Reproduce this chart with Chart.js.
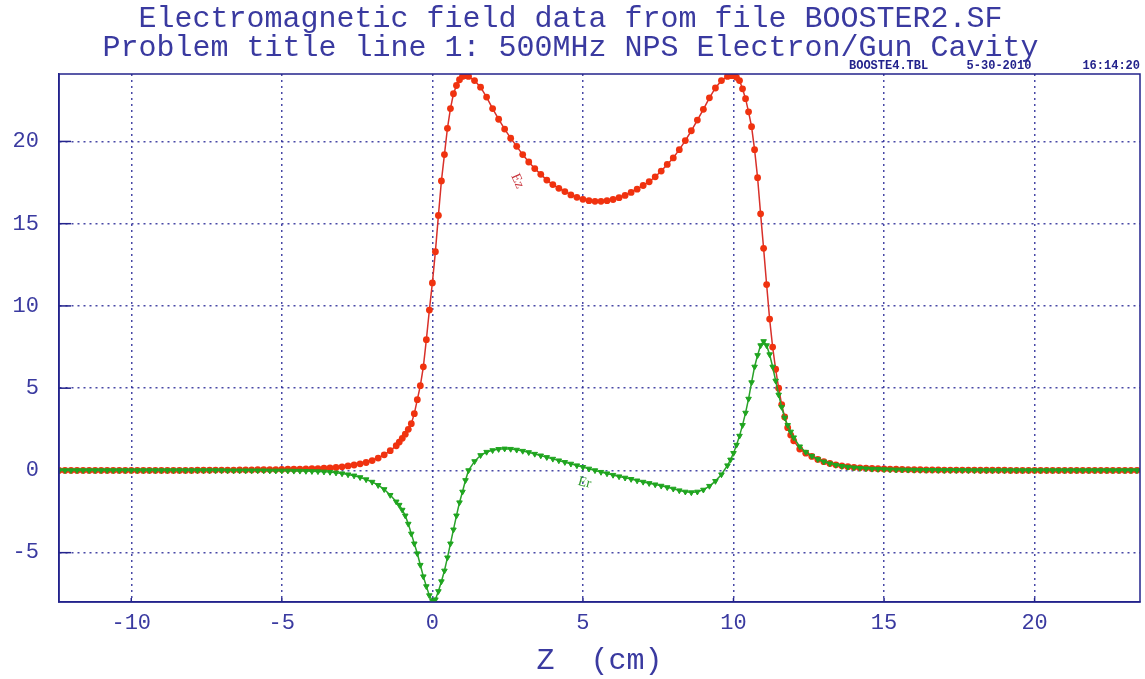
<!DOCTYPE html>
<html>
<head>
<meta charset="utf-8">
<script src="https://cdn.jsdelivr.net/npm/chart.js@4.4.1/dist/chart.umd.min.js"></script>
<style>
  html, body { margin: 0; padding: 0; background: #fff; }
</style>
</head>
<body>
<canvas id="fieldChart" width="1145" height="679"></canvas>
<script>
// z position (cm) of each table point
const zCm = [
  -12.4, -12.2, -12.0, -11.8, -11.6, -11.4, -11.2, -11.0, -10.8, -10.6,
  -10.4, -10.2, -10.0, -9.8, -9.6, -9.4, -9.2, -9.0, -8.8, -8.6,
  -8.4, -8.2, -8.0, -7.8, -7.6, -7.4, -7.2, -7.0, -6.8, -6.6,
  -6.4, -6.2, -6.0, -5.8, -5.6, -5.4, -5.2, -5.0, -4.8, -4.6,
  -4.4, -4.2, -4.0, -3.8, -3.6, -3.4, -3.2, -3.0, -2.8, -2.6,
  -2.4, -2.2, -2.0, -1.8, -1.6, -1.4,
  -1.2, -1.1, -1.0, -0.9, -0.8, -0.7, -0.6, -0.5, -0.4, -0.3,
  -0.2, -0.1, 0.0, 0.1, 0.2, 0.3, 0.4, 0.5, 0.6, 0.7,
  0.8, 0.9, 1.0, 1.1, 1.2,
  1.4, 1.6, 1.8, 2.0, 2.2, 2.4, 2.6, 2.8, 3.0, 3.2,
  3.4, 3.6, 3.8, 4.0, 4.2, 4.4, 4.6, 4.8, 5.0, 5.2,
  5.4, 5.6, 5.8, 6.0, 6.2, 6.4, 6.6, 6.8, 7.0, 7.2,
  7.4, 7.6, 7.8, 8.0, 8.2, 8.4, 8.6, 8.8, 9.0, 9.2,
  9.4, 9.6, 9.8,
  9.9, 10.0, 10.1, 10.2, 10.3, 10.4, 10.5, 10.6, 10.7, 10.8,
  10.9, 11.0, 11.1, 11.2, 11.3, 11.4, 11.5, 11.6, 11.7, 11.8,
  11.9, 12.0,
  12.2, 12.4, 12.6, 12.8, 13.0, 13.2, 13.4, 13.6, 13.8, 14.0,
  14.2, 14.4, 14.6, 14.8, 15.0, 15.2, 15.4, 15.6, 15.8, 16.0,
  16.2, 16.4, 16.6, 16.8, 17.0, 17.2, 17.4, 17.6, 17.8, 18.0,
  18.2, 18.4, 18.6, 18.8, 19.0, 19.2, 19.4, 19.6, 19.8, 20.0,
  20.2, 20.4, 20.6, 20.8, 21.0, 21.2, 21.4, 21.6, 21.8, 22.0,
  22.2, 22.4, 22.6, 22.8, 23.0, 23.2, 23.4
];

// Ez along the axis
const ez = [
  0, 0, 0, 0, 0, 0, 0, 0, 0, 0,
  0, 0, 0, 0, 0, 0, 0, 0, 0, 0,
  0, 0, 0, 0.01, 0.01, 0.01, 0.02, 0.02, 0.02, 0.02,
  0.03, 0.03, 0.03, 0.04, 0.04, 0.05, 0.05, 0.06, 0.07, 0.07,
  0.08, 0.09, 0.10, 0.11, 0.13, 0.15, 0.18, 0.22, 0.27, 0.33,
  0.40, 0.48, 0.60, 0.75, 0.95, 1.20,
  1.50, 1.72, 1.95, 2.20, 2.50, 2.84, 3.45, 4.30, 5.15, 6.30,
  7.95, 9.75, 11.40, 13.30, 15.50, 17.60, 19.20, 20.80, 22.00, 22.90,
  23.40, 23.75, 23.95, 24.00, 23.95,
  23.70, 23.30, 22.70, 22.00, 21.35, 20.75, 20.20, 19.70, 19.20, 18.75,
  18.35, 18.00, 17.65, 17.38, 17.15, 16.95, 16.75, 16.60, 16.48, 16.40,
  16.36, 16.36, 16.40, 16.47, 16.58, 16.72, 16.90, 17.10, 17.32, 17.55,
  17.85, 18.20, 18.60, 19.00, 19.50, 20.05, 20.65, 21.30, 21.95, 22.65,
  23.25, 23.70, 23.95,
  24.00, 24.00, 23.90, 23.70, 23.20, 22.60, 21.80, 20.90, 19.50, 17.80,
  15.60, 13.50, 11.30, 9.20, 7.50, 6.15, 5.00, 4.00, 3.25, 2.60,
  2.15, 1.80,
  1.30, 1.05, 0.85, 0.67, 0.53, 0.42, 0.34, 0.28, 0.23, 0.19,
  0.16, 0.14, 0.12, 0.10, 0.09, 0.08, 0.07, 0.06, 0.05, 0.04,
  0.04, 0.03, 0.03, 0.03, 0.02, 0.02, 0.02, 0.02, 0.02, 0.02,
  0.01, 0.01, 0.01, 0.01, 0.01, 0, 0, 0, 0, 0,
  0, 0, 0, 0, 0, 0, 0, 0, 0, 0,
  0, 0, 0, 0, 0, 0, 0
];

// Er along the axis
const er = [
  0, 0, 0, 0, 0, 0, 0, 0, 0, 0,
  0, 0, 0, 0, 0, 0, 0, 0, 0, 0,
  0, 0, 0, 0, 0, 0, 0, 0, -0.01, -0.01,
  -0.01, -0.01, -0.01, -0.01, -0.01, -0.02, -0.02, -0.02, -0.02, -0.03,
  -0.03, -0.04, -0.05, -0.06, -0.08, -0.10, -0.14, -0.19, -0.25, -0.32,
  -0.42, -0.55, -0.70, -0.90, -1.15, -1.50,
  -1.90, -2.10, -2.40, -2.75, -3.25, -3.85, -4.45, -5.05, -5.75, -6.45,
  -7.05, -7.60, -7.95, -7.85, -7.35, -6.75, -6.10, -5.30, -4.45, -3.60,
  -2.75, -1.95, -1.30, -0.60, 0.00,
  0.55, 0.92, 1.12, 1.22, 1.29, 1.32, 1.30, 1.25, 1.18, 1.10,
  1.00, 0.90, 0.80, 0.70, 0.60, 0.50, 0.40, 0.30, 0.20, 0.10,
  0.00, -0.10, -0.19, -0.28, -0.37, -0.45, -0.53, -0.62, -0.70, -0.78,
  -0.86, -0.94, -1.03, -1.12, -1.22, -1.30, -1.34, -1.30, -1.18, -0.95,
  -0.65, -0.25, 0.30,
  0.65, 1.05, 1.55, 2.10, 2.75, 3.50, 4.35, 5.35, 6.30, 7.00,
  7.60, 7.85, 7.60, 7.05, 6.30, 5.45, 4.60, 3.85, 3.20, 2.75,
  2.35, 2.00,
  1.45, 1.12, 0.88, 0.68, 0.53, 0.42, 0.33, 0.26, 0.21, 0.17,
  0.14, 0.11, 0.09, 0.08, 0.06, 0.05, 0.04, 0.04, 0.03, 0.03,
  0.02, 0.02, 0.02, 0.01, 0.01, 0.01, 0.01, 0.01, 0, 0,
  0, 0, 0, 0, 0, 0, 0, 0, 0, 0,
  0, 0, 0, 0, 0, 0, 0, 0, 0, 0,
  0, 0, 0, 0, 0, 0, 0
];

const titleLines = [
  'Electromagnetic field data from file BOOSTER2.SF',
  'Problem title line 1: 500MHz NPS Electron/Gun Cavity'
];
const stampFile = 'BOOSTE4.TBL';
const stampDate = '5-30-2010';
const stampTime = '16:14:20';
const xTitle = 'Z  (cm)';
const curveNames = ['Ez', 'Er'];

const navy = '#23238c';
const textBlue = '#3a3aa0';
const mono = '"Liberation Mono", "DejaVu Sans Mono", monospace';

function pairs(ys) {
  return zCm.map((z, i) => ({ x: z, y: ys[i] }));
}

// extra decorations: frame, inward ticks, stamp, curve names
const decorations = {
  id: 'decorations',
  beforeDatasetsDraw(chart) {
    const { ctx, chartArea: a, scales } = chart;
    ctx.save();
    ctx.strokeStyle = navy;
    ctx.lineWidth = 1.5;
    scales.y.ticks.forEach(t => {
      const y = scales.y.getPixelForValue(t.value);
      ctx.beginPath(); ctx.moveTo(a.left, y); ctx.lineTo(a.left + 12, y); ctx.stroke();
    });
    scales.x.ticks.forEach(t => {
      const x = scales.x.getPixelForValue(t.value);
      ctx.beginPath(); ctx.moveTo(x, a.bottom); ctx.lineTo(x, a.bottom - 4); ctx.stroke();
    });
    ctx.restore();
  },
  afterDraw(chart) {
    const { ctx, chartArea: a, scales } = chart;
    ctx.save();
    ctx.strokeStyle = navy;
    ctx.lineWidth = 1.5;
    ctx.strokeRect(a.left, a.top, a.right - a.left, a.bottom - a.top);

    ctx.fillStyle = navy;
    ctx.font = 'bold 12px ' + mono;
    ctx.textBaseline = 'middle';
    ctx.textAlign = 'left';
    ctx.fillText(stampFile, 849, 66);
    ctx.textAlign = 'center';
    ctx.fillText(stampDate, 999, 66);
    ctx.textAlign = 'right';
    ctx.fillText(stampTime, 1140, 66);

    // curve names
    ctx.textAlign = 'center';
    ctx.font = '14px "Liberation Serif", serif';
    ctx.fillStyle = '#c8343c';
    ctx.translate(scales.x.getPixelForValue(2.82), scales.y.getPixelForValue(17.6));
    ctx.rotate(1.15);
    ctx.fillText(curveNames[0], 0, 0);
    ctx.setTransform(1, 0, 0, 1, 0, 0);
    ctx.fillStyle = '#2e9a2e';
    ctx.translate(scales.x.getPixelForValue(5.05), scales.y.getPixelForValue(-0.75));
    ctx.rotate(0.25);
    ctx.fillText(curveNames[1], 0, 0);
    ctx.restore();
  }
};

const ctx = document.getElementById('fieldChart').getContext('2d');

const fieldChart = new Chart(ctx, {
  type: 'scatter',
  data: {
    datasets: [
      {
        label: curveNames[0],
        data: pairs(ez),
        showLine: true,
        borderColor: '#d8302a',
        borderWidth: 1.5,
        backgroundColor: '#f0320f',
        pointBackgroundColor: '#f0320f',
        pointBorderWidth: 0,
        pointRadius: 3.4,
        pointStyle: 'circle',
        order: 1
      },
      {
        label: curveNames[1],
        data: pairs(er),
        showLine: true,
        borderColor: '#2aa22a',
        borderWidth: 1.5,
        backgroundColor: '#1fa51f',
        pointBackgroundColor: '#1fa51f',
        pointBorderColor: '#1fa51f',
        pointBorderWidth: 1,
        pointRadius: 3.2,
        pointStyle: 'triangle',
        pointRotation: 180,
        order: 0
      }
    ]
  },
  options: {
    responsive: false,
    animation: false,
    devicePixelRatio: 1,
    layout: { padding: { left: 0, right: 4, top: 0, bottom: 0 } },
    plugins: {
      legend: { display: false },
      tooltip: { enabled: false },
      title: {
        display: true,
        text: titleLines,
        color: textBlue,
        font: { family: mono, size: 30, weight: 'normal', lineHeight: 0.95 },
        padding: { top: 5, bottom: 12 }
      }
    },
    scales: {
      x: {
        type: 'linear',
        min: -12.4,
        max: 23.5,
        afterFit: s => { s.height = 77; },
        ticks: {
          stepSize: 5,
          includeBounds: false,
          color: textBlue,
          padding: 8,
          font: { family: mono, size: 22 },
          maxRotation: 0
        },
        grid: {
          color: 'rgba(40,40,150,0.85)',
          lineWidth: 1.5,
          drawTicks: false
        },
        border: { display: true, color: navy, width: 1.5, dash: [2, 4] },
        title: {
          display: true,
          text: xTitle,
          color: textBlue,
          font: { family: mono, size: 30 },
          padding: { top: 0, bottom: 0 }
        }
      },
      y: {
        type: 'linear',
        min: -8.0,
        max: 24.1,
        afterFit: s => { s.width = 59; },
        ticks: {
          stepSize: 5,
          includeBounds: false,
          color: textBlue,
          padding: 20,
          font: { family: mono, size: 22 }
        },
        grid: {
          color: 'rgba(40,40,150,0.85)',
          lineWidth: 1.5,
          drawTicks: false
        },
        border: { display: true, color: navy, width: 1.5, dash: [2, 4] }
      }
    }
  },
  plugins: [decorations]
});
</script>
</body>
</html>
